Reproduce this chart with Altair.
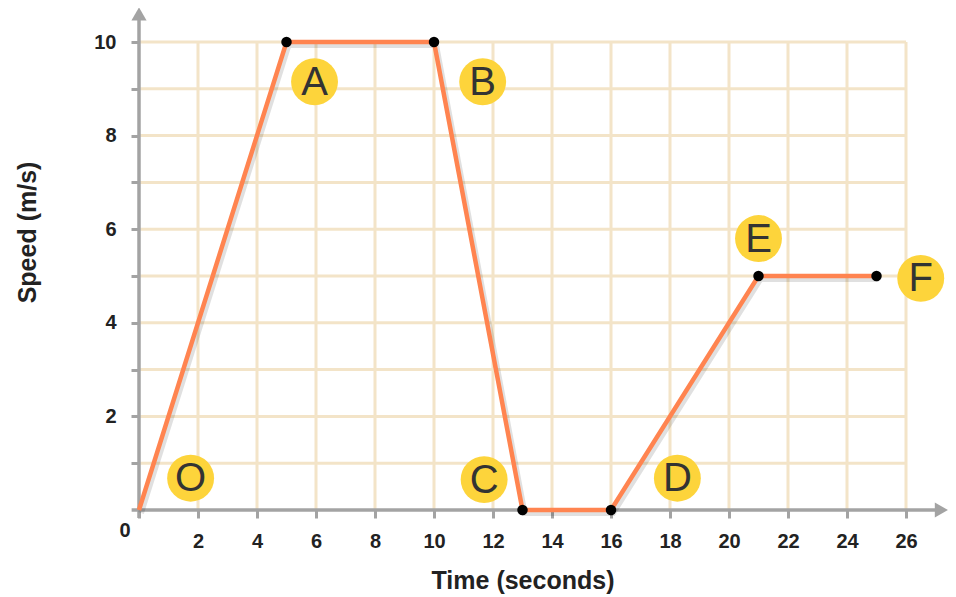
import altair as alt
import pandas as pd

# Data
time_s = [0, 5, 10, 13, 16, 21, 25]
speed = [0, 10, 10, 0, 0, 5, 5]
point_labels = ["O", "A", "B", "C", "D", "E", "F"]
label_x = [1.75, 5.95, 11.65, 11.7, 18.25, 21.0, 26.5]
label_y = [0.68, 9.15, 9.15, 0.65, 0.68, 5.8, 4.95]
x_ticks = list(range(0, 27, 2))
y_ticks = list(range(1, 11))
grid_x = list(range(2, 27, 2))
grid_y = list(range(1, 11))

line_df = pd.DataFrame({"t": time_s, "v": speed})
dot_df = line_df.iloc[1:]
lab_df = pd.DataFrame({"lab": point_labels, "x": label_x, "y": label_y})
vgrid = pd.DataFrame({"x": grid_x, "y0": 0, "y1": 10})
hgrid = pd.DataFrame({"y": grid_y, "x0": 0, "x1": 26})
yaxis_df = pd.DataFrame({"x": [0], "y0": [-0.17], "y1": [10.5]})
xaxis_df = pd.DataFrame({"y": [0], "x0": [-0.25], "x1": [27.0]})
yarrow = pd.DataFrame({"x": [0], "y": [10.6]})
xarrow = pd.DataFrame({"x": [27.2], "y": [0]})
zero_df = pd.DataFrame({"x": [0], "y": [0], "t": ["0"]})

FONT = "Liberation Sans"
GRID = "#F3E4C8"
AXC = "#A3A3A3"

xs = alt.Scale(domain=[0, 26], nice=False, zero=False)
ys = alt.Scale(domain=[0, 10], nice=False, zero=False)

x_axis = alt.Axis(
    values=x_ticks, labelExpr="datum.value == 0 ? '' : datum.label",
    domain=False, grid=False, tickColor=AXC, tickWidth=3, tickSize=8,
    labelFont=FONT, labelFontWeight="bold", labelFontSize=20, labelColor="#222",
    labelPadding=13, labelFlush=False, title="Time (seconds)", titleFont=FONT,
    titleFontSize=25, titleFontWeight="bold", titleColor="#222", titlePadding=17,
)
y_axis = alt.Axis(
    values=y_ticks, labelExpr="datum.value % 2 == 0 ? datum.label : ''",
    domain=False, grid=False, tickColor=AXC, tickWidth=3, tickSize=8,
    labelFont=FONT, labelFontWeight="bold", labelFontSize=20, labelColor="#222",
    labelPadding=15, labelFlush=False, title="Speed (m/s)", titleFont=FONT,
    titleFontSize=25, titleFontWeight="bold", titleColor="#222", titleX=-112,
    titleY=190, titleBaseline="middle",
)

vg = alt.Chart(vgrid).mark_rule(color=GRID, strokeWidth=3).encode(
    x=alt.X("x:Q", scale=xs, axis=x_axis), y=alt.Y("y0:Q", scale=ys, axis=y_axis), y2="y1:Q")
hg = alt.Chart(hgrid).mark_rule(color=GRID, strokeWidth=3).encode(
    y=alt.Y("y:Q", scale=ys), x=alt.X("x0:Q", scale=xs), x2="x1:Q")

yax = alt.Chart(yaxis_df).mark_rule(color=AXC, strokeWidth=3.5).encode(
    x=alt.X("x:Q", scale=xs), y=alt.Y("y0:Q", scale=ys), y2="y1:Q")
xax = alt.Chart(xaxis_df).mark_rule(color=AXC, strokeWidth=3.5).encode(
    y=alt.Y("y:Q", scale=ys), x=alt.X("x0:Q", scale=xs), x2="x1:Q")
ya = alt.Chart(yarrow).mark_point(shape="triangle-up", filled=True, color=AXC, opacity=1, size=230).encode(
    x=alt.X("x:Q", scale=xs), y=alt.Y("y:Q", scale=ys))
xa = alt.Chart(xarrow).mark_point(shape="triangle-right", filled=True, color=AXC, opacity=1, size=230).encode(
    x=alt.X("x:Q", scale=xs), y=alt.Y("y:Q", scale=ys))

shadow = alt.Chart(line_df).mark_line(color="#000000", opacity=0.12, strokeWidth=6, xOffset=2, yOffset=3).encode(
    x=alt.X("t:Q", scale=xs), y=alt.Y("v:Q", scale=ys))
line = alt.Chart(line_df).mark_line(color="#FF8450", strokeWidth=4.5).encode(
    x=alt.X("t:Q", scale=xs), y=alt.Y("v:Q", scale=ys))
dots = alt.Chart(dot_df).mark_circle(color="#000000", opacity=1, size=110).encode(
    x=alt.X("t:Q", scale=xs), y=alt.Y("v:Q", scale=ys))

circles = alt.Chart(lab_df).mark_circle(color="#FDD43B", opacity=1, size=2200).encode(
    x=alt.X("x:Q", scale=xs), y=alt.Y("y:Q", scale=ys))
letters = alt.Chart(lab_df).mark_text(font=FONT, fontSize=40, fontWeight="normal", color="#333333",
                                      baseline="middle", align="center", dy=1).encode(
    x=alt.X("x:Q", scale=xs), y=alt.Y("y:Q", scale=ys), text="lab:N")

zero = alt.Chart(zero_df).mark_text(font=FONT, fontSize=20, fontWeight="bold", color="#222",
                                    dx=-14, dy=21, baseline="middle", align="center").encode(
    x=alt.X("x:Q", scale=xs), y=alt.Y("y:Q", scale=ys), text="t:N")

chart = alt.layer(vg, hg, yax, xax, ya, xa, shadow, line, dots, circles, letters, zero).properties(
    width=767, height=468,
    autosize=alt.AutoSizeParams(type="none"),
    padding={"left": 131, "top": 34, "right": 42, "bottom": 86},
).configure_view(stroke=None)

chart.save("out.html", embed_options={"renderer": "svg", "actions": False})
